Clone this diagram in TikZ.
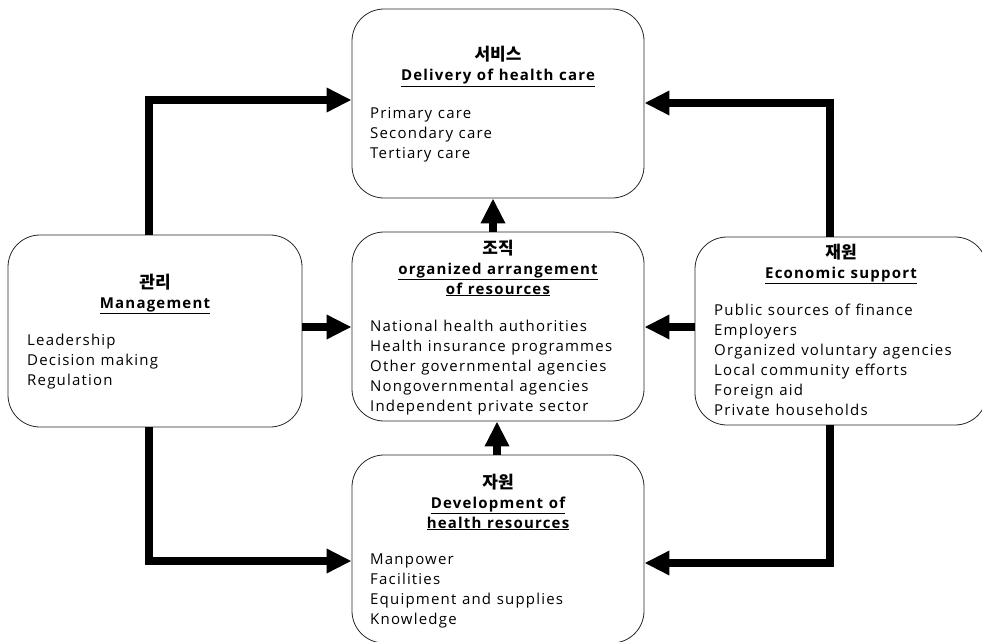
\documentclass[tikz,border=0pt]{standalone}
\usepackage{fontspec}
\setmainfont{Open Sans}[LetterSpace=8,WordSpace=1.1]
\newfontfamily\krfont{Noto Sans CJK KR}
\usetikzlibrary{arrows.meta}
\begin{document}
\begin{tikzpicture}[x=1pt,y=-1pt,
  box/.style={draw=black!85,line width=0.8pt,rounded corners=32pt,fill=white,inner sep=0pt},
  kr/.style={font=\krfont\bfseries\fontsize{17}{20}\selectfont,anchor=base,inner sep=0pt},
  head/.style={font=\bfseries\fontsize{15}{20}\selectfont,anchor=base,inner sep=0pt},
  item/.style={font=\fontsize{15}{20}\selectfont,anchor=base west,inner sep=0pt},
  arr/.style={line width=7.5pt,line join=miter,-{Triangle[length=25pt,width=23pt]}}]
\useasboundingbox (0,0) rectangle (982,642);
% boxes
\node[box,minimum width=292pt,minimum height=189pt] (svc) at (498,103.5) {};
\node[box,minimum width=292pt,minimum height=189pt] (org) at (498,326.5) {};
\node[box,minimum width=292pt,minimum height=188pt] (res) at (498,549) {};
\node[box,minimum width=294pt,minimum height=192pt] (mgmt) at (155,331) {};
\node[box,minimum width=292pt,minimum height=188pt] (econ) at (841,331) {};
% texts: service
\node[kr] (svc-k) at (498,61) {서비스};
\node[head] (svc-h) at (498,81) {\underline{Delivery of health care}};
\foreach \t [count=\i] in {Primary care,Secondary care,Tertiary care}
  \node[item] (svc-\i) at (370,{118+20*(\i-1)}) {\t};
% organization
\node[kr] (org-k) at (498,254) {조직};
\node[head] (org-h1) at (498,274) {\underline{organized arrangement}};
\node[head] (org-h2) at (498,294) {\underline{of resources}};
\foreach \t [count=\i] in {National health authorities,Health insurance programmes,Other governmental agencies,Nongovernmental agencies,Independent private sector}
  \node[item] (org-\i) at (370,{331+20*(\i-1)}) {\t};
% resources
\node[kr] (res-k) at (498,488) {자원};
\node[head] (res-h1) at (498,508) {\underline{Development of}};
\node[head] (res-h2) at (498,528) {\underline{health resources}};
\foreach \t [count=\i] in {Manpower,Facilities,Equipment and supplies,Knowledge}
  \node[item] (res-\i) at (370,{564+20*(\i-1)}) {\t};
% management
\node[kr] (mgmt-k) at (155,288) {관리};
\node[head] (mgmt-h) at (155,308) {\underline{Management}};
\foreach \t [count=\i] in {Leadership,Decision making,Regulation}
  \node[item] (mgmt-\i) at (27,{345+20*(\i-1)}) {\t};
% economic
\node[kr] (econ-k) at (841,258) {재원};
\node[head] (econ-h) at (841,278) {\underline{Economic support}};
\foreach \t [count=\i] in {Public sources of finance,Employers,Organized voluntary agencies,Local community efforts,Foreign aid,Private households}
  \node[item] (econ-\i) at (714,{315+20*(\i-1)}) {\t};
% connectors
\draw[arr] (mgmt.north -| 149,0) |- (svc.west |- 0,100);
\draw[arr] (econ.north -| 830,0) |- (svc.east |- 0,103);
\draw[arr] (mgmt.east |- 0,327) -- (org.west |- 0,327);
\draw[arr] (econ.west |- 0,327) -- (org.east |- 0,327);
\draw[arr] (org.north -| 493,0) -- (svc.south -| 493,0);
\draw[arr] (res.north -| 497,0) -- (org.south -| 497,0);
\draw[arr] (mgmt.south -| 149,0) |- (res.west |- 0,561);
\draw[arr] (econ.south -| 830,0) |- (res.east |- 0,563);
\end{tikzpicture}
\end{document}
